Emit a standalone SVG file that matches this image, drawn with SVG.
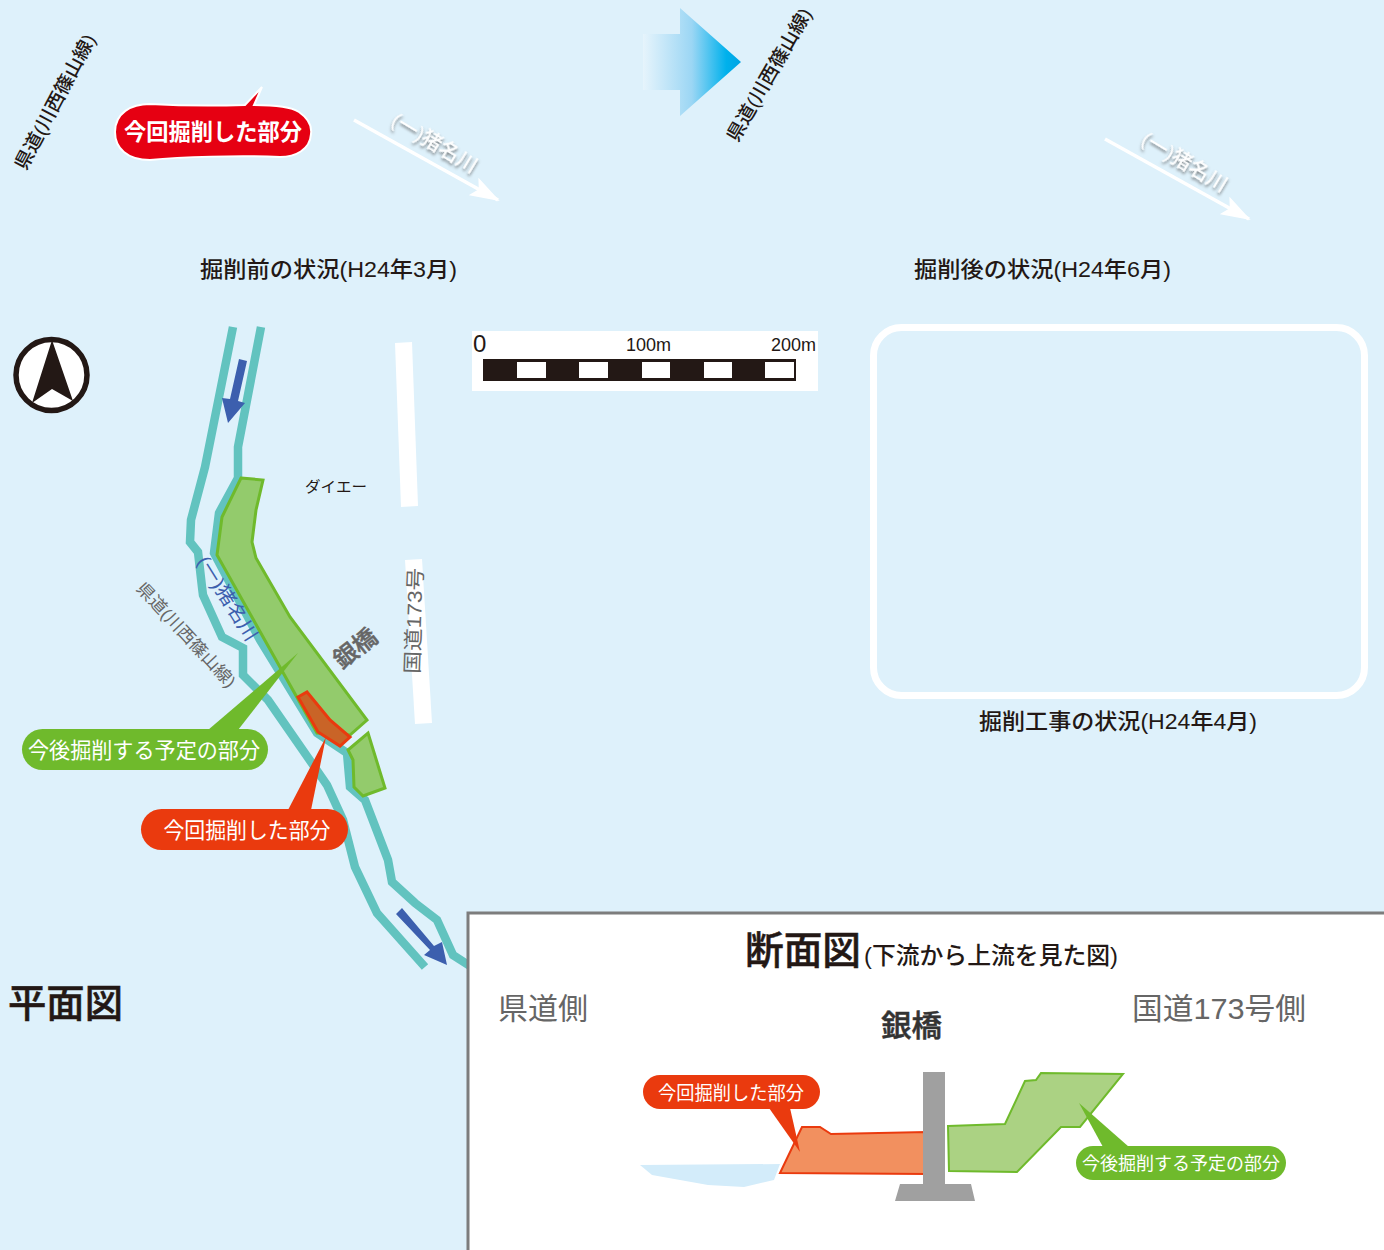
<svg xmlns="http://www.w3.org/2000/svg" width="1384" height="1250" viewBox="0 0 1384 1250">
<style>
text{font-family:"Liberation Sans","Noto Sans CJK JP",sans-serif}
.cap{font-size:22px;font-weight:500;fill:#231815}
.pill{font-size:22px;font-weight:400;fill:#fff;text-anchor:middle}
.gray{fill:#666}
.river{fill:none;stroke:#62c3bf;stroke-width:8.500}
.grn{fill:#93cb6c;stroke:#6fba2c;stroke-width:3}
.flow{fill:#3c5fae}
.sc{fill:#231815}
.wh{fill:#fff;font-weight:500;font-size:20px}
.pref{font-size:19px;font-weight:500;fill:#231815}
</style>
<defs>
<linearGradient id="ga" x1="0" x2="1" y1="0" y2="0">
<stop offset="0" stop-color="#e6f4fc"/><stop offset="0.5" stop-color="#9bd6f4"/><stop offset="0.85" stop-color="#00b1ec"/><stop offset="1" stop-color="#00a4e4"/>
</linearGradient>
<filter id="sh" x="-20%" y="-50%" width="140%" height="200%"><feDropShadow dx="1" dy="2" stdDeviation="1.5" flood-color="#555" flood-opacity="0.75"/></filter>
<marker id="wa" viewBox="0 0 30 20" refX="28" refY="10" markerWidth="30" markerHeight="20" markerUnits="userSpaceOnUse" orient="auto"><path d="M0 0L30 10L0 20L6 10Z" fill="#fff"/></marker>
</defs>
<rect width="1384" height="1250" fill="#def1fb"/>

<g id="top-left-photo">
<text transform="translate(61,105) rotate(-62)" text-anchor="middle" class="pref" textLength="150" lengthAdjust="spacingAndGlyphs">県道(川西篠山線)</text>
<path d="M354 120L498 200" fill="none" stroke="#fff" stroke-width="3.500" marker-end="url(#wa)"/>
<text transform="translate(431,149) rotate(31)" text-anchor="middle" class="wh" filter="url(#sh)" textLength="96" lengthAdjust="spacingAndGlyphs">(一)猪名川</text>
</g>
<g id="callout-top">
<path d="M115 132C115 113 131 104 150 104C185 106 215 106 245 105L262 87L254 105C270 105 290 106 299 112C309 119 312 127 311 134C310 150 295 157 280 157C240 155 180 157 150 160C127 160 115 148 115 132Z" fill="#e60012" stroke="#fff" stroke-width="2"/>
<text x="213" y="140" class="pill" style="font-weight:700;font-size:23px" textLength="178" lengthAdjust="spacingAndGlyphs">今回掘削した部分</text>
</g>
<g id="top-arrow">
<path d="M643 34H680V8L741 62L680 116V90H643Z" fill="url(#ga)"/>
</g>
<g id="top-right-photo">
<text transform="translate(775,78) rotate(-60)" text-anchor="middle" class="pref" textLength="150" lengthAdjust="spacingAndGlyphs">県道(川西篠山線)</text>
<path d="M1105 139L1249 219" fill="none" stroke="#fff" stroke-width="3.500" marker-end="url(#wa)"/>
<text transform="translate(1181,168) rotate(31)" text-anchor="middle" class="wh" filter="url(#sh)" textLength="96" lengthAdjust="spacingAndGlyphs">(一)猪名川</text>
</g>
<g id="captions">
<text x="200" y="277" class="cap" textLength="257" lengthAdjust="spacingAndGlyphs">掘削前の状況(H24年3月)</text>
<text x="914" y="277" class="cap" textLength="257" lengthAdjust="spacingAndGlyphs">掘削後の状況(H24年6月)</text>
<text x="979" y="729" class="cap" textLength="278" lengthAdjust="spacingAndGlyphs">掘削工事の状況(H24年4月)</text>
</g>
<g id="photo-frame"><rect x="873.500" y="327.500" width="491" height="368" rx="28" fill="none" stroke="#fff" stroke-width="7"/></g>

<g id="compass">
<circle cx="51.500" cy="375" r="35.500" fill="#fff" stroke="#231815" stroke-width="5.500"/>
<path d="M52 340L73 401L52 389L32 403Z" fill="#231815"/>
</g>
<g id="scale">
<rect x="472" y="331" width="346" height="60" fill="#fff"/>
<rect x="483" y="359" width="313" height="22" fill="#231815"/>
<g fill="#fff"><rect x="517" y="362" width="29" height="16"/><rect x="579" y="362" width="29" height="16"/><rect x="642" y="362" width="28" height="16"/><rect x="704" y="362" width="28" height="16"/><rect x="765" y="362" width="29" height="16"/></g>
<text x="473" y="352" class="sc" font-size="24">0</text>
<text x="626" y="351" class="sc" font-size="18">100m</text>
<text x="771" y="351" class="sc" font-size="18">200m</text>
</g>

<g id="roads" fill="#fff">
<path d="M395 343L412 342L418 506L401 507Z"/>
<path d="M405 560L422 559L432 723L415 724Z"/>
</g>
<g id="connectors">
<path class="river" d="M233 327L205 467L191 520L190 542L198 552L202 587L203 595L222 637L243 648L243 675L268 700L327 785L343 820L355 867L377 913L425 967"/>
<path class="river" d="M261 327L238 447L238 478L219 513L214 553L260 640L317 733L347 753L350 787L365 800L388 860L392 882L415 903L437 920L453 955L470 966"/>
<path class="flow" d="M239 359L247 361L238 401L245 403L228 423L222 398L230 399Z"/>
<path class="flow" d="M396 914L402 908L434 946L442 942L447 965L424 955L430 950Z"/>
</g>
<g id="excavation-plan">
<path class="grn" d="M241 478L263 480L256 510L252 542L256 558L290 617L367 720L350 735L317 733L217 555L222 517Z"/>
<path class="grn" d="M368 733L385 788L363 796L354 787L353 760L348 750Z"/>
<path d="M307 692L330 720L350 737L340 746L318 732L298 697Z" fill="#c96427" stroke="#ea3a0e" stroke-width="3"/>
</g>
<g id="plan-labels">
<text transform="translate(222,602) rotate(58)" text-anchor="middle" font-size="19" fill="#3c5fae" textLength="96" lengthAdjust="spacingAndGlyphs">(一)猪名川</text>
<text transform="translate(182,639) rotate(47)" text-anchor="middle" font-size="17" class="gray" textLength="136" lengthAdjust="spacingAndGlyphs">県道(川西篠山線)</text>
<text transform="translate(355,648) rotate(-38)" text-anchor="middle" y="9" font-size="24" font-weight="500" class="gray" stroke="#666" stroke-width=".5">銀橋</text>
<text transform="translate(421,621) rotate(-88)" text-anchor="middle" font-size="20" class="gray" textLength="106" lengthAdjust="spacingAndGlyphs">国道173号</text>
<text x="305" y="492" font-size="15" fill="#231815" textLength="62" lengthAdjust="spacingAndGlyphs">ダイエー</text>
</g>
<g id="callout-green">
<path d="M298 653L238 730H208Z" fill="#6fba2c"/>
<rect x="22" y="729" width="246" height="41" rx="20.500" fill="#6fba2c"/>
<text x="144" y="758" class="pill" textLength="232" lengthAdjust="spacingAndGlyphs">今後掘削する予定の部分</text>
</g>
<g id="callout-red">
<path d="M326 737L311 810H288Z" fill="#ea3a0e"/>
<rect x="141" y="809" width="207" height="41" rx="20.500" fill="#ea3a0e"/>
<text x="247" y="838" class="pill" textLength="167" lengthAdjust="spacingAndGlyphs">今回掘削した部分</text>
</g>
<g id="plan-title"><text x="8" y="1017" font-size="39" font-weight="500" fill="#231815" stroke="#231815" stroke-width=".5" textLength="115" lengthAdjust="spacingAndGlyphs">平面図</text></g>

<g id="section-panel">
<rect x="468" y="913" width="920" height="340" fill="#fff" stroke="#7d7d7d" stroke-width="3"/>
<text x="745" y="964" font-size="39" font-weight="500" fill="#231815" stroke="#231815" stroke-width=".5" textLength="116" lengthAdjust="spacingAndGlyphs">断面図</text>
<text x="864" y="964" font-size="24" font-weight="500" fill="#231815" textLength="254" lengthAdjust="spacingAndGlyphs">(下流から上流を見た図)</text>
<text x="498" y="1019" font-size="30" class="gray" textLength="90" lengthAdjust="spacingAndGlyphs">県道側</text>
<text x="1132" y="1019" font-size="30" class="gray" textLength="174" lengthAdjust="spacingAndGlyphs">国道173号側</text>
<text x="881" y="1036" font-size="30" font-weight="500" fill="#333" stroke="#333" stroke-width=".5" textLength="61" lengthAdjust="spacingAndGlyphs">銀橋</text>
</g>
<g id="section-drawing">
<path d="M640 1165L780 1164L774 1180L744 1187L708 1185L652 1175Z" fill="#d3ecfa"/>
<path d="M780 1173L802 1127L820 1127L831 1134L926 1132V1174Z" fill="#f2905f" stroke="#ea3a0e" stroke-width="2"/>
<path d="M948 1126L1005 1124L1025 1081L1036 1080L1041 1073L1123 1074L1080 1127H1061L1017 1172L949 1171Z" fill="#abd283" stroke="#6fba2c" stroke-width="2"/>
<path d="M923 1072H945V1184H971L975 1201H895L900 1184H923Z" fill="#a0a0a0"/>
</g>
<g id="section-callout-red">
<path d="M769 1108L790 1108L800 1152Z" fill="#ea3a0e"/>
<rect x="643" y="1075" width="177" height="34" rx="17" fill="#ea3a0e"/>
<text x="731" y="1100" class="pill" style="font-size:19px" textLength="146" lengthAdjust="spacingAndGlyphs">今回掘削した部分</text>
</g>
<g id="section-callout-green">
<path d="M1079 1103L1129 1147H1103Z" fill="#6fba2c"/>
<rect x="1076" y="1146" width="210" height="34" rx="17" fill="#6fba2c"/>
<text x="1181" y="1170" class="pill" style="font-size:18.500px" textLength="198" lengthAdjust="spacingAndGlyphs">今後掘削する予定の部分</text>
</g>
</svg>
